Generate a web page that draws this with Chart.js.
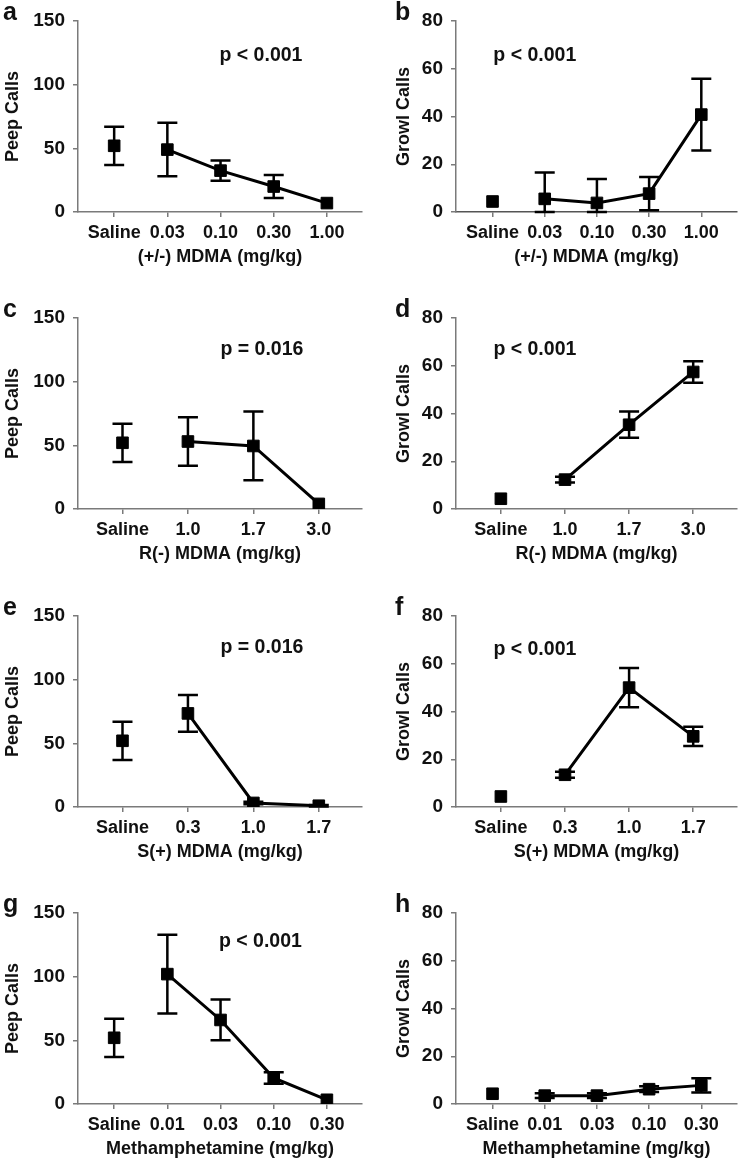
<!DOCTYPE html>
<html><head><meta charset="utf-8">
<script src="https://cdn.jsdelivr.net/npm/chart.js@4"></script>
<style>
html,body{margin:0;padding:0;background:#fff;overflow:hidden}
#wrap{position:relative;width:746px;height:1170px;overflow:hidden;background:#fff}
canvas{position:absolute}
</style></head><body><div id="wrap"></div>
<script>
// ---- category / tick labels ----
const racMdmaLabels = ['Saline','0.03','0.10','0.30','1.00'];
const rMdmaLabels   = ['Saline','1.0','1.7','3.0'];
const sMdmaLabels   = ['Saline','0.3','1.0','1.7'];
const methLabels    = ['Saline','0.01','0.03','0.10','0.30'];
const peepYTicks  = [0, 50, 100, 150];
const growlYTicks = [0, 20, 40, 60, 80];

// ---- series values (mean, SEM) ----
const peepRacMdma     = [52, 49, 32.5, 20, 7];
const peepRacMdmaErr  = [15, 21, 8, 9, 0];
const growlRacMdma    = [4.4, 5.5, 3.8, 7.7, 40.8];
const growlRacMdmaErr = [0, 11, 10, 7, 15];
const peepRMdma       = [52, 53, 49.5, 4];
const peepRMdmaErr    = [15, 19, 27, 0];
const growlRMdma      = [4.3, 12.3, 35.3, 57.4];
const growlRMdmaErr   = [0, 1.2, 5.5, 4.5];
const peepSMdma       = [52, 73.5, 3.2, 1];
const peepSMdmaErr    = [15, 14.5, 1, 0.6];
const growlSMdma      = [4.4, 13.5, 50, 29.6];
const growlSMdmaErr   = [0, 1.3, 8.2, 4];
const peepMeth        = [52, 102, 66, 20.5, 3.3];
const peepMethErr     = [15, 31, 16, 4.5, 0];
const growlMeth       = [4.3, 3.5, 3.5, 6.2, 7.8];
const growlMethErr    = [0, 1, 1, 1.2, 3];

const panels = [
  {letter:'a', col:0, row:0, labels:racMdmaLabels, vals:peepRacMdma, errs:peepRacMdmaErr, yTitle:'Peep Calls', xTitle:'(+/-) MDMA (mg/kg)', yMax:150, yTicks:peepYTicks, p:'p < 0.001', px:2.76, py:122.5},
  {letter:'b', col:1, row:0, labels:racMdmaLabels, vals:growlRacMdma, errs:growlRacMdmaErr, yTitle:'Growl Calls', xTitle:'(+/-) MDMA (mg/kg)', yMax:80, yTicks:growlYTicks, p:'p < 0.001', px:0.81, py:65.6, dotted:true},
  {letter:'c', col:0, row:1, labels:rMdmaLabels, vals:peepRMdma, errs:peepRMdmaErr, yTitle:'Peep Calls', xTitle:'R(-) MDMA (mg/kg)', yMax:150, yTicks:peepYTicks, p:'p = 0.016', px:2.13, py:125},
  {letter:'d', col:1, row:1, labels:rMdmaLabels, vals:growlRMdma, errs:growlRMdmaErr, yTitle:'Growl Calls', xTitle:'R(-) MDMA (mg/kg)', yMax:80, yTicks:growlYTicks, p:'p < 0.001', px:0.53, py:66.7},
  {letter:'e', col:0, row:2, labels:sMdmaLabels, vals:peepSMdma, errs:peepSMdmaErr, yTitle:'Peep Calls', xTitle:'S(+) MDMA (mg/kg)', yMax:150, yTicks:peepYTicks, p:'p = 0.016', px:2.13, py:125.3},
  {letter:'f', col:1, row:2, labels:sMdmaLabels, vals:growlSMdma, errs:growlSMdmaErr, yTitle:'Growl Calls', xTitle:'S(+) MDMA (mg/kg)', yMax:80, yTicks:growlYTicks, p:'p < 0.001', px:0.53, py:65.8},
  {letter:'g', col:0, row:3, labels:methLabels, vals:peepMeth, errs:peepMethErr, yTitle:'Peep Calls', xTitle:'Methamphetamine (mg/kg)', yMax:150, yTicks:peepYTicks, p:'p < 0.001', px:2.75, py:127.3},
  {letter:'h', col:1, row:3, labels:methLabels, vals:growlMeth, errs:growlMethErr, yTitle:'Growl Calls', xTitle:'Methamphetamine (mg/kg)', yMax:80, yTicks:growlYTicks, p:null}
];

const FONT = "'Liberation Sans', Arial, Helvetica, sans-serif";
const TXT = '#111';
const AXIS = '#7a7a7a';
const rowTops = [0, 297, 595, 892];

const errorBars = {
  id: 'errorBars',
  beforeDatasetsDraw(chart) {
    const ctx = chart.ctx, xs = chart.scales.x, ys = chart.scales.y;
    ctx.save();
    ctx.strokeStyle = '#000';
    ctx.lineWidth = 2.5;
    chart.data.datasets.forEach(ds => {
      ds.data.forEach((pt, i) => {
        const e = ds.errors[i];
        if (!e) return;
        const x = xs.getPixelForValue(pt.x);
        const lo = Math.max(ys.min, pt.y - e), hi = Math.min(ys.max, pt.y + e);
        const yl = ys.getPixelForValue(lo), yh = ys.getPixelForValue(hi);
        ctx.beginPath();
        ctx.moveTo(x, yl); ctx.lineTo(x, yh);
        ctx.moveTo(x - 10, yh); ctx.lineTo(x + 10, yh);
        ctx.moveTo(x - 10, yl); ctx.lineTo(x + 10, yl);
        ctx.stroke();
      });
    });
    ctx.restore();
  }
};

const panelText = {
  id: 'panelText',
  afterDraw(chart, args, opts) {
    const ctx = chart.ctx, xs = chart.scales.x, ys = chart.scales.y;
    ctx.save();
    ctx.fillStyle = TXT;
    ctx.font = 'bold 25px ' + FONT;
    ctx.textAlign = 'left';
    ctx.textBaseline = 'alphabetic';
    ctx.fillText(opts.letter, opts.letterX, chart.chartArea.top - 1);
    if (opts.p) {
      ctx.font = 'bold 19.5px ' + FONT;
      ctx.textAlign = 'center';
      ctx.textBaseline = 'middle';
      ctx.fillText(opts.p, xs.getPixelForValue(opts.px), ys.getPixelForValue(opts.py));
    }
    ctx.restore();
  }
};

const wrap = document.getElementById('wrap');
panels.forEach(pn => {
  const cv = document.createElement('canvas');
  cv.width = 373; cv.height = 297;
  cv.style.left = (pn.col * 373) + 'px';
  cv.style.top = rowTops[pn.row] + 'px';
  cv.style.width = '373px'; cv.style.height = '297px';
  wrap.appendChild(cv);
  const n = pn.labels.length;
  const xmin = pn.col ? -0.7 : -0.68;
  const xmax = n - 1 + (pn.col ? 0.68 : 0.66);
  const pointOpts = {
    borderColor: '#000', backgroundColor: '#000',
    pointStyle: 'rect', pointRadius: 8.2, pointBorderWidth: 1,
    pointBackgroundColor: '#000', pointBorderColor: '#000', pointHoverRadius: 8.2
  };
  new Chart(cv, {
    type: 'line',
    data: {
      datasets: [
        Object.assign({
          data: [{x: 0, y: pn.vals[0]}],
          errors: [pn.errs[0]],
          showLine: false
        }, pointOpts),
        Object.assign({
          data: pn.vals.slice(1).map((v, i) => ({x: i + 1, y: v})),
          errors: pn.errs.slice(1),
          borderWidth: 3, tension: 0
        }, pointOpts)
      ]
    },
    options: {
      responsive: false, animation: false, events: [],
      layout: {padding: {top: 21, right: pn.col ? 2 : 11, bottom: 0, left: 0}},
      plugins: {
        legend: {display: false}, tooltip: {enabled: false},
        panelText: {letter: pn.letter, letterX: pn.col ? 22 : 3, p: pn.p, px: pn.px, py: pn.py}
      },
      scales: {
        x: {
          type: 'linear', min: xmin, max: xmax,
          afterBuildTicks: s => { s.ticks = pn.labels.map((_, i) => ({value: i})); },
          afterFit: s => { s.height = 85; },
          ticks: {callback: v => pn.labels[v], autoSkip: false, maxRotation: 0,
                  font: {family: FONT, size: 18, weight: 'bold'}, color: TXT, padding: 5},
          grid: {display: true, drawOnChartArea: false, drawTicks: true, tickLength: 5, color: AXIS, lineWidth: 1.5},
          border: {display: true, color: pn.dotted ? '#555' : AXIS, width: 1.5, dash: pn.dotted ? [2, 2] : []},
          title: {display: true, text: pn.xTitle, color: TXT,
                  font: {family: FONT, size: 18, weight: 'bold'}, padding: {top: 0, bottom: 29}}
        },
        y: {
          min: 0, max: pn.yMax,
          afterBuildTicks: s => { s.ticks = pn.yTicks.map(v => ({value: v})); },
          afterFit: s => { s.width = pn.col ? 83 : 78; },
          ticks: {font: {family: FONT, size: 19, weight: 'bold'}, color: TXT, padding: 8},
          grid: {display: true, drawOnChartArea: false, drawTicks: true, tickLength: 5, color: AXIS, lineWidth: 1.5},
          border: {display: true, color: AXIS, width: 1.5},
          title: {display: true, text: pn.yTitle, color: TXT,
                  font: {family: FONT, size: 18, weight: 'bold'}, padding: {top: pn.col ? 20 : 2, bottom: 0}}
        }
      }
    },
    plugins: [errorBars, panelText]
  });
});
</script>
</body></html>
